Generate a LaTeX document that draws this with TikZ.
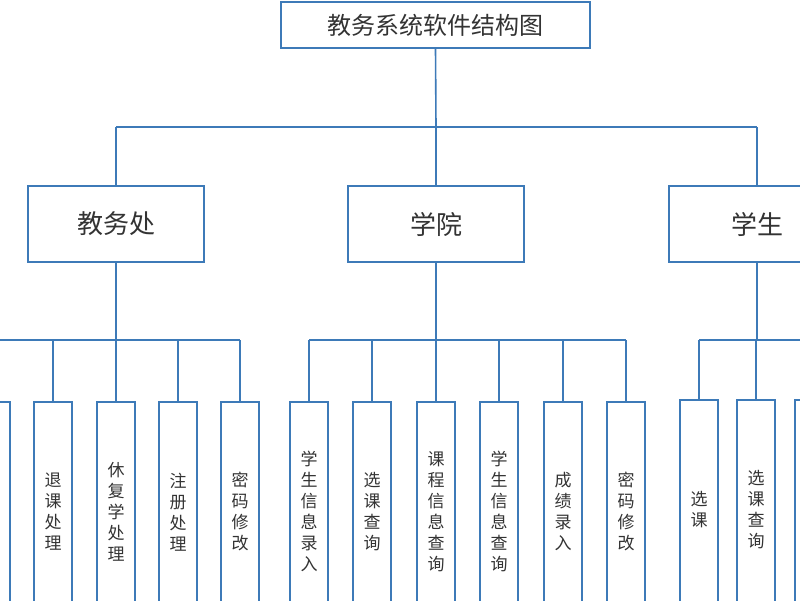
\documentclass[tikz,border=0pt]{standalone}
\usepackage{fontspec}
\setmainfont{Noto Sans CJK SC}
\usetikzlibrary{positioning}
\definecolor{linkblue}{HTML}{3D7AB8}
\definecolor{txtgray}{HTML}{333333}

\begin{document}
\begin{tikzpicture}[
    x = 1pt, y = -1pt, % pixel-like units
    line width = 1.6pt,
    draw = linkblue,
    text = txtgray
    ]

    \tikzset{
    topbox/.style = {draw = linkblue, fill = white, minimum width = 309pt, minimum height = 46pt, font = \fontsize{24}{24}\selectfont},
    midbox/.style = {draw = linkblue, fill = white, minimum width = 176pt, minimum height = 76pt, font = \fontsize{26}{26}\selectfont},
    leaf/.style = {draw = linkblue, fill = white, minimum width = 38pt, minimum height = 220pt, anchor = north, align = center, font = \fontsize{17}{21}\selectfont}
    }
    \useasboundingbox (0,0) rectangle (800,600);
    \begin{scope}
    \clip (0,0) rectangle (800,600);

    \node[topbox] (root) at (435.5,25) {教务系统软件结构图};
    \node[midbox] (jw) at (116,224) {教务处};
    \node[midbox] (xy) at (436,224) {学院};
    \node[midbox] (xs) at (757,224) {学生};

    \coordinate (r1) at (116,127);
    \coordinate (r3) at (757,127);
    \draw (root.south) -- (436,127);
    \draw (r1) -- (r3);
    \draw (r1) -- (jw.north);
    \draw (436,127) -- (xy.north);
    \draw (r3) -- (xs.north);

    % 教务处
    \node[leaf] (j0) at (-9,401) {};
    \node[leaf] (j1) at (53,401) {退\\课\\处\\理};
    \node[leaf] (j2) at (116,401) {休\\复\\学\\处\\理};
    \node[leaf] (j3) at (178,401) {注\\册\\处\\理};
    \node[leaf] (j4) at (240,401) {密\\码\\修\\改};
    \coordinate (jb) at (116,340);
    \draw (jw.south) -- (jb);
    \draw (j0.north |- jb) -- (j4.north |- jb);
    \foreach \n in {j0,j1,j2,j3,j4} \draw (\n.north |- jb) -- (\n.north);

    % 学院
    \node[leaf] (y1) at (309,401) {学\\生\\信\\息\\录\\入};
    \node[leaf] (y2) at (372,401) {选\\课\\查\\询};
    \node[leaf] (y3) at (436,401) {课\\程\\信\\息\\查\\询};
    \node[leaf] (y4) at (499,401) {学\\生\\信\\息\\查\\询};
    \node[leaf] (y5) at (563,401) {成\\绩\\录\\入};
    \node[leaf] (y6) at (626,401) {密\\码\\修\\改};
    \coordinate (yb) at (436,340);
    \draw (xy.south) -- (yb);
    \draw (y1.north |- yb) -- (y6.north |- yb);
    \foreach \n in {y1,y2,y3,y4,y5,y6} \draw (\n.north |- yb) -- (\n.north);

    % 学生
    \node[leaf] (s1) at (699,399) {选\\课};
    \node[leaf] (s2) at (756,399) {选\\课\\查\\询};
    \node[leaf] (s3) at (814,399) {};
    \coordinate (sb) at (757,340);
    \draw (xs.south) -- (sb);
    \draw (s1.north |- sb) -- (s3.north |- sb);
    \foreach \n in {s1,s2,s3} \draw (\n.north |- sb) -- (\n.north);
    \end{scope}
\end{tikzpicture}
\end{document}
